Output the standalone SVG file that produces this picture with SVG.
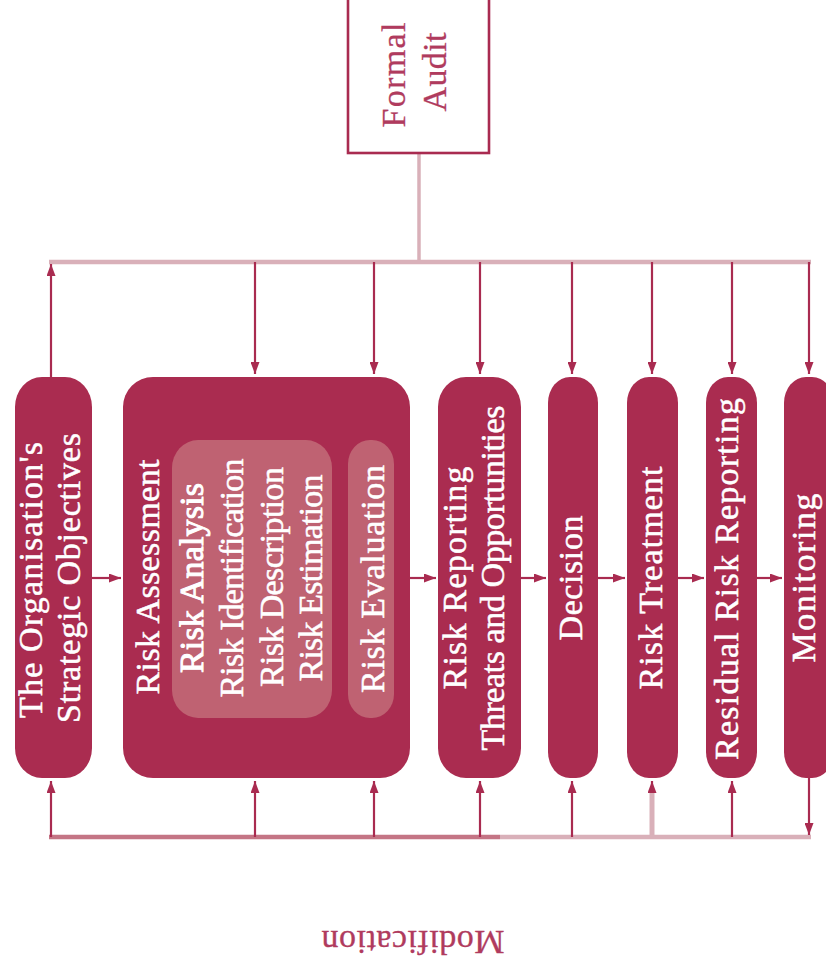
<svg xmlns="http://www.w3.org/2000/svg" width="826" height="970" viewBox="0 0 826 970">
<style>
.node{fill:#aa2c50;}
.inner{fill:#bf6272;}
.t{font-family:"Liberation Serif","Times New Roman",serif;font-size:34px;fill:#ffffff;stroke:#ffffff;stroke-width:0.5;text-anchor:middle;}
.tb{stroke-width:1;}
.tr{font-family:"Liberation Serif","Times New Roman",serif;font-size:34px;fill:#b03b5e;stroke:#b03b5e;stroke-width:0.3;text-anchor:middle;}
.ar{stroke:#a92b50;stroke-width:2.2;fill:none;marker-end:url(#ah);}
.arl{stroke:#d9b0b9;stroke-width:5;fill:none;}
.light{stroke:#d9b0b9;stroke-width:4.5;fill:none;}
.mid{stroke:#c47585;stroke-width:4.5;fill:none;}
</style>
<defs>
<marker id="ah" viewBox="0 0 12 9" refX="12" refY="4.5" markerWidth="12" markerHeight="9" markerUnits="userSpaceOnUse" orient="auto">
<path d="M0,0 L12,4.5 L0,9 z" fill="#a92b50"/>
</marker>
</defs>
<rect width="826" height="970" fill="#ffffff"/>

<g id="connectors">
<line class="light" x1="419" y1="153" x2="419" y2="262" style="stroke-width:3.5"/>
<line class="light" x1="49" y1="262" x2="811" y2="262"/>
<line class="mid" x1="49" y1="837" x2="500" y2="837"/>
<line class="light" x1="500" y1="837" x2="811" y2="837"/>
<line class="arl" x1="652" y1="837" x2="652" y2="790"/>
<line class="ar" x1="51" y1="377" x2="51" y2="264"/>
<line class="ar" x1="255" y1="262" x2="255" y2="374"/>
<line class="ar" x1="374" y1="262" x2="374" y2="374"/>
<line class="ar" x1="480" y1="262" x2="480" y2="374"/>
<line class="ar" x1="572" y1="262" x2="572" y2="374"/>
<line class="ar" x1="652" y1="262" x2="652" y2="374"/>
<line class="ar" x1="732" y1="262" x2="732" y2="374"/>
<line class="ar" x1="809" y1="262" x2="809" y2="374"/>
<line class="ar" x1="51" y1="837" x2="51" y2="781"/>
<line class="ar" x1="255" y1="837" x2="255" y2="781"/>
<line class="ar" x1="374" y1="837" x2="374" y2="781"/>
<line class="ar" x1="480" y1="837" x2="480" y2="781"/>
<line class="ar" x1="572" y1="837" x2="572" y2="781"/>
<line class="ar" x1="652" y1="792" x2="652" y2="781"/>
<line class="ar" x1="732" y1="837" x2="732" y2="781"/>
<line class="ar" x1="809" y1="778" x2="809" y2="835"/>
<line class="ar" x1="92" y1="578" x2="121" y2="578"/>
<line class="ar" x1="410" y1="578" x2="436" y2="578"/>
<line class="ar" x1="521" y1="578" x2="546" y2="578"/>
<line class="ar" x1="598" y1="578" x2="625" y2="578"/>
<line class="ar" x1="678" y1="578" x2="704" y2="578"/>
<line class="ar" x1="757" y1="578" x2="782" y2="578"/>
</g>

<g id="formal-audit">
<rect x="348" y="-10" width="141" height="163" fill="#ffffff" stroke="#a92b50" stroke-width="2.6"/>
<text class="tr" transform="translate(405,75) rotate(-90)" textLength="105" lengthAdjust="spacing">Formal</text>
<text class="tr" transform="translate(446,72) rotate(-90)" textLength="79" lengthAdjust="spacing">Audit</text>
</g>

<g id="strategic-objectives">
<rect class="node" x="15" y="377" width="77" height="401" rx="27" ry="30"/>
<text class="t" transform="translate(42,580) rotate(-90)" textLength="276" lengthAdjust="spacing">The Organisation's</text>
<text class="t" transform="translate(80,578) rotate(-90)" textLength="290" lengthAdjust="spacing">Strategic Objectives</text>
</g>

<g id="risk-assessment">
<rect class="node" x="123" y="377" width="287" height="401" rx="30" ry="30"/>
<text class="t" transform="translate(159,577) rotate(-90)" textLength="235" lengthAdjust="spacing">Risk Assessment</text>
<g id="risk-analysis">
<rect class="inner" x="172" y="440" width="160" height="278" rx="26" ry="28"/>
<text class="t tb" transform="translate(203,578) rotate(-90)" textLength="190" lengthAdjust="spacing">Risk Analysis</text>
<text class="t" transform="translate(243,578) rotate(-90)" textLength="239" lengthAdjust="spacing">Risk Identification</text>
<text class="t" transform="translate(283,577) rotate(-90)" textLength="220" lengthAdjust="spacing">Risk Description</text>
<text class="t" transform="translate(322,578) rotate(-90)" textLength="207" lengthAdjust="spacing">Risk Estimation</text>
</g>
<g id="risk-evaluation">
<rect class="inner" x="348" y="440" width="46" height="278" rx="22" ry="24"/>
<text class="t" transform="translate(384,579) rotate(-90)" textLength="228" lengthAdjust="spacing">Risk Evaluation</text>
</g>
</g>

<g id="risk-reporting">
<rect class="node" x="438" y="377" width="83" height="401" rx="28" ry="30"/>
<text class="t" transform="translate(466,578) rotate(-90)" textLength="223" lengthAdjust="spacing">Risk Reporting</text>
<text class="t" transform="translate(504,578) rotate(-90)" textLength="345" lengthAdjust="spacing">Threats and Opportunities</text>
</g>

<g id="decision">
<rect class="node" x="548" y="377" width="50" height="401" rx="22" ry="26"/>
<text class="t" transform="translate(582,578) rotate(-90)" textLength="125" lengthAdjust="spacing">Decision</text>
</g>

<g id="risk-treatment">
<rect class="node" x="627" y="377" width="51" height="401" rx="22" ry="26"/>
<text class="t" transform="translate(662,578) rotate(-90)" textLength="223" lengthAdjust="spacing">Risk Treatment</text>
</g>

<g id="residual-risk-reporting">
<rect class="node" x="706" y="377" width="51" height="401" rx="22" ry="26"/>
<text class="t" transform="translate(738,579) rotate(-90)" textLength="362" lengthAdjust="spacing">Residual Risk Reporting</text>
</g>

<g id="monitoring">
<rect class="node" x="784" y="377" width="50" height="401" rx="22" ry="26"/>
<text class="t" transform="translate(815,578) rotate(-90)" textLength="169" lengthAdjust="spacing">Monitoring</text>
</g>

<g id="modification">
<text class="tr" transform="translate(413,931) rotate(180)" textLength="183" lengthAdjust="spacing">Modification</text>
</g>
</svg>
